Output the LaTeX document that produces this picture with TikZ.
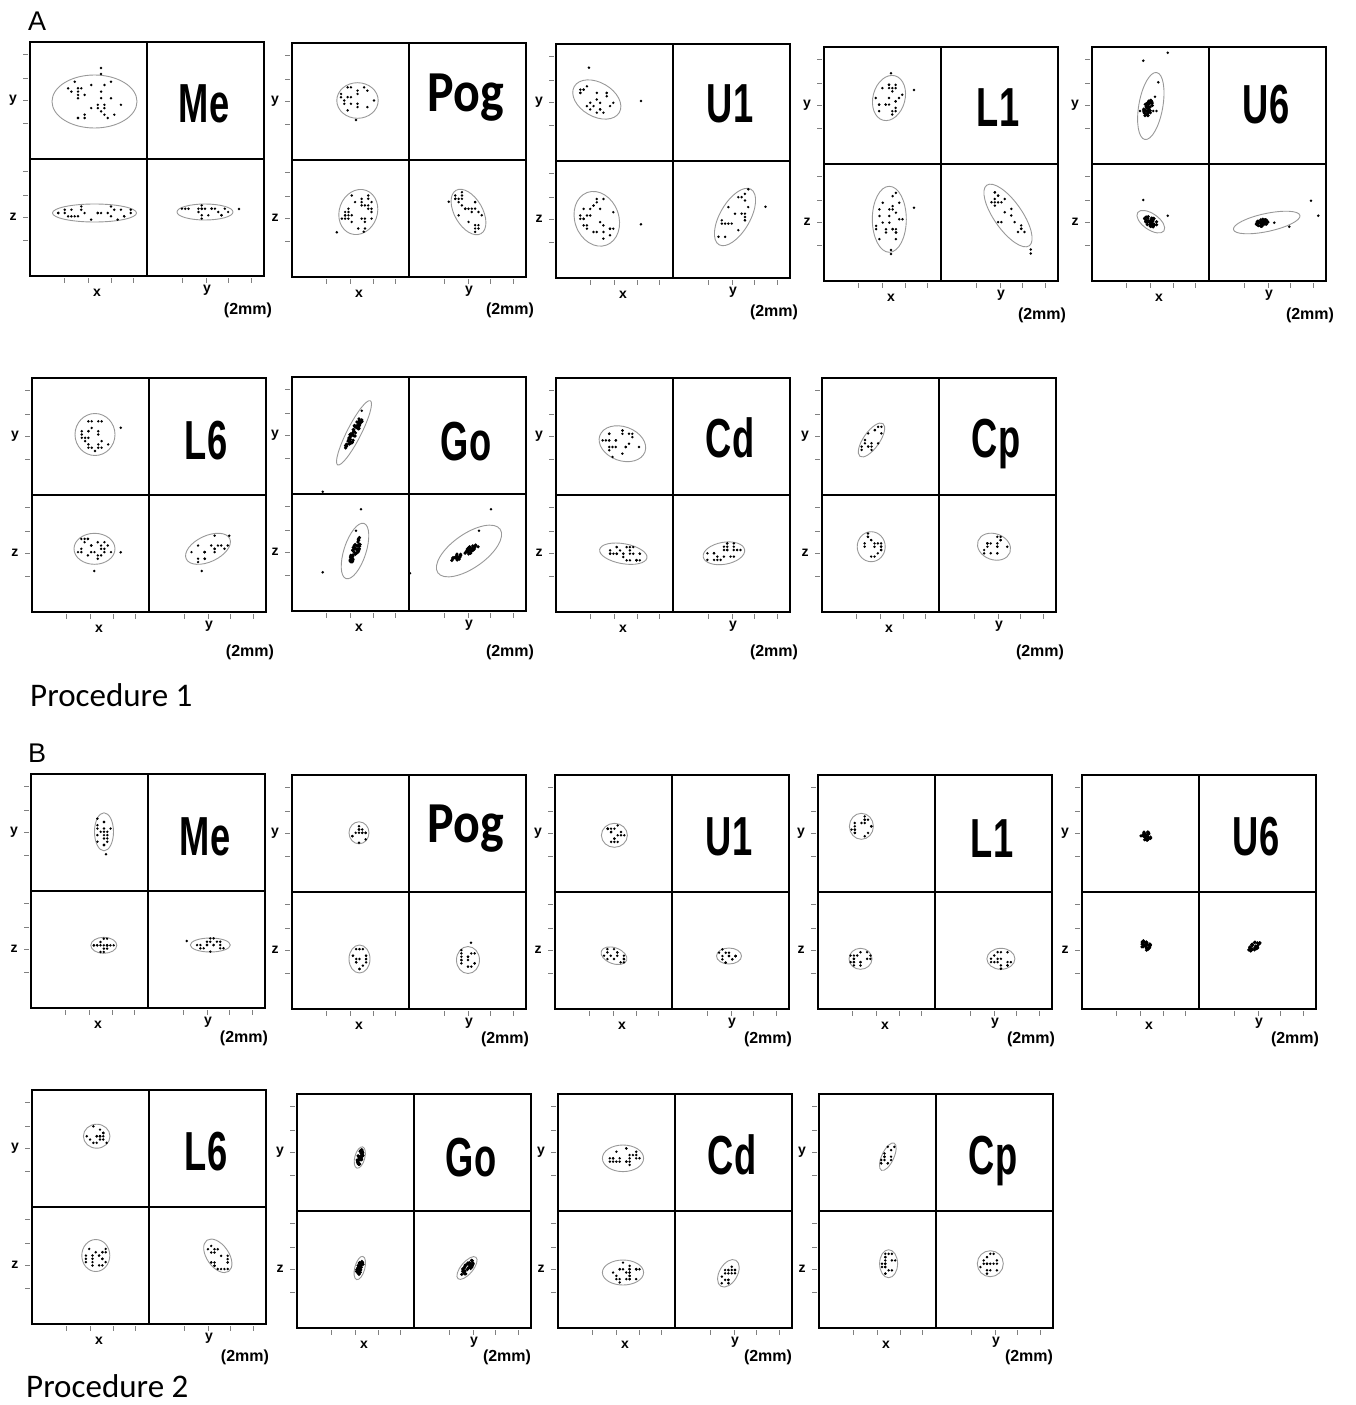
\documentclass[tikz,border=0pt]{standalone}
\usepackage{fontspec}
\setmainfont{Liberation Sans}
\newfontfamily\carl{Carlito}
\tikzset{
 frame/.style={line width=1.9pt, black},
 divl/.style={line width=1.6pt, black},
 tickl/.style={line width=0.8pt, black!50},
 ell/.style={line width=0.9pt, black!40},
 ax/.style={font=\bfseries\fontsize{14}{14}\selectfont, inner sep=0},
 mmlab/.style={font=\bfseries\fontsize{16}{16}\selectfont, inner sep=0},
 biglab/.style={font=\bfseries\fontsize{55}{55}\selectfont, inner sep=0, anchor=base},
 proc/.style={font=\carl\fontsize{33}{33}\selectfont, inner sep=0, anchor=base west},
 letter/.style={font=\fontsize{27}{27}\selectfont, inner sep=0, anchor=base west},
}
\newcommand\cnd[1]{\scalebox{0.66}[1]{#1}}
\newcommand\pogl{{\carl\bfseries\fontsize{58}{58}\selectfont\scalebox{0.86}[1]{Pog}}}
\newcommand\panelbody[5]{%
 \draw[frame] (0,0) rectangle (234,234);
 \draw[divl] (117,0) -- (117,234) (0,117) -- (234,117);
 \foreach \tk in {12,36,58,81,129,153,175,198} {\draw[tickl] (-7,\tk) -- (-2,\tk);}
 \foreach \tk in {34,58,81,103,152,176,198,221} {\draw[tickl] (\tk,236) -- (\tk,241);}
 \node[ax] (#1-ly) at (-17,58) {y};
 \node[ax] (#1-lz) at (-17,175) {z};
 \node[ax] (#1-lx) at (67,251) {x};
 \node[ax] (#1-ly2) at (177,248) {y};
 \node[mmlab] (#1-mm) at (#3,#4) {(2mm)};
 \node[biglab] (#1-t) at (174,#5) {#2};
}
\newcommand\dts[8]{%
 \pgfmathsetseed{#7}%
 \foreach \nn in {1,...,#6}{%
  \pgfmathsetmacro\cAng{rnd*360}%
  \pgfmathsetmacro\cRad{sqrt(rnd)*#8}%
  \pgfmathsetmacro\cU{\cRad*#3*cos(\cAng)}%
  \pgfmathsetmacro\cV{\cRad*#4*sin(\cAng)}%
  \pgfmathsetmacro\cX{#1+round(((\cU)*cos(#5)+(\cV)*sin(#5))/3.3)*3.3}%
  \pgfmathsetmacro\cY{#2+round((0-(\cU)*sin(#5)+(\cV)*cos(#5))/3.3)*3.3}%
  \fill (\cX,\cY) circle[radius=1.35];%
 }%
}
\newcommand\blb[8]{%
 \pgfmathsetseed{#7}%
 \foreach \nn in {1,...,#6}{%
  \pgfmathsetmacro\cAng{rnd*360}%
  \pgfmathsetmacro\cRad{sqrt(rnd)*#8}%
  \pgfmathsetmacro\cU{\cRad*#3*cos(\cAng)}%
  \pgfmathsetmacro\cV{\cRad*#4*sin(\cAng)}%
  \pgfmathsetmacro\cX{#1+(\cU)*cos(#5)+(\cV)*sin(#5)}%
  \pgfmathsetmacro\cY{#2-(\cU)*sin(#5)+(\cV)*cos(#5)}%
  \fill (\cX,\cY) circle[radius=1.8];%
 }%
}
\newcommand\el[5]{\draw[ell, rotate around={#5:(#1,#2)}] (#1,#2) ellipse[x radius=#3, y radius=#4];}
\newcommand\cl[8]{\el{#1}{#2}{#3}{#4}{#5}\dts{#1}{#2}{#3}{#4}{#5}{#6}{#7}{#8}}
\newcommand\od[2]{\fill (#1,#2) circle[radius=1.4];}
\begin{document}
\begin{tikzpicture}[x=1pt,y=-1pt]
\useasboundingbox[fill=white] (0,0) rectangle (1356,1405);
\node[letter] (labA) at (28,31) {A};
\node[letter] (labB) at (28,762) {B};
\node[proc] (proc1) at (30,706) {Procedure 1};
\node[proc] (proc2) at (26,1397) {Procedure 2};
% ---------- A row 1
\begin{scope}[shift={(30,42)}]
 \panelbody{aMe}{\cnd{Me}}{218}{268}{80}
 \cl{64.5}{59.5}{42.5}{26.5}{0}{30}{11}{0.85}
 \od{71}{26}\od{71}{32}
 \cl{64.5}{171}{42}{9}{0}{26}{12}{0.9}
 \cl{175}{170}{28}{8}{0}{20}{13}{0.9}
 \od{209}{167}
\end{scope}
\begin{scope}[shift={(292,43)}]
 \panelbody{aPog}{\pogl}{218}{267}{68}
 \cl{65.5}{57.5}{20.7}{17.8}{0}{18}{21}{0.85}
 \od{64}{77}
 \cl{66.3}{169}{23}{19}{70}{30}{22}{0.85}
 \od{44.8}{189.3}\od{71.7}{188.7}
 \cl{176.5}{169}{25}{14}{-60}{26}{23}{0.85}
 \od{156.7}{158.7}
\end{scope}
\begin{scope}[shift={(556,44)}]
 \panelbody{aU1}{\cnd{U1}}{218}{268}{78}
 \cl{40.8}{55.5}{26}{17}{-30}{22}{31}{0.8}
 \od{32.9}{23.7}\od{84.9}{57}
 \cl{40.8}{174.8}{28}{22}{-70}{28}{32}{0.8}
 \od{84.9}{180.3}
 \cl{179}{173}{32}{15}{60}{20}{33}{0.8}
 \od{209.5}{162.7}\od{192.3}{145.3}
\end{scope}
\begin{scope}[shift={(824,47)}]
 \panelbody{aL1}{\cnd{L1}}{218}{268}{79}
 \cl{65}{51}{23}{16}{75}{24}{41}{0.85}
 \od{90}{43}\od{67}{26.3}
 \cl{65.3}{172.3}{33}{17}{90}{26}{42}{0.85}
 \od{90}{160.7}\od{67}{203}\od{67}{207}
 \cl{184}{168.5}{37}{14}{-55}{22}{43}{0.8}
 \od{206.7}{202.5}\od{206.7}{206.5}
\end{scope}
\begin{scope}[shift={(1092,47)}]
 \panelbody{aU6}{\cnd{U6}}{218}{268}{76}
 \el{58.8}{59}{34}{12}{80}
 \blb{56.3}{61.3}{10}{5}{80}{40}{51}{0.9}
 \foreach \hx in {48,51.3,54.6,57.9,61.2,64.5} {\od{\hx}{64}}
 \od{51.3}{13.7}\od{75.7}{5.7}\od{66.3}{35.3}\od{63}{49.7}
 \el{58.8}{174.7}{16}{8}{-35}
 \blb{58.8}{174.7}{8}{5}{-35}{40}{52}{0.9}
 \od{51.3}{153}\od{75.7}{168.7}
 \el{174.7}{175.5}{34}{9}{12}
 \blb{169.7}{175.7}{7}{4}{12}{40}{53}{0.9}
 \od{219}{153.7}\od{226.3}{168.7}\od{197.3}{179.7}\od{182.3}{175.7}
\end{scope}
% ---------- A row 2
\begin{scope}[shift={(32,378)}]
 \panelbody{aL6}{\cnd{L6}}{218}{274}{81}
 \cl{63}{56.5}{20}{21}{0}{24}{61}{0.8}
 \od{88.7}{49.7}
 \cl{62.5}{170.8}{20.5}{15.5}{0}{24}{62}{0.85}
 \od{88.7}{174.3}\od{62.3}{193}
 \cl{176}{170.8}{24}{13}{25}{18}{63}{0.85}
 \od{169.7}{193}\od{197.3}{157.7}
\end{scope}
\begin{scope}[shift={(292,377)}]
 \panelbody{aGo}{\cnd{Go}}{218}{275}{83}
 \el{62}{55.8}{36}{7}{63}
 \blb{62}{55.8}{20}{4}{63}{50}{71}{0.9}
 \od{69.7}{33.7}\od{30.7}{114.7}
 \el{63}{174}{29}{11}{72}
 \blb{63}{174}{16}{4}{72}{45}{72}{0.9}
 \od{69}{132.3}\od{30.7}{195.3}\od{64}{153.7}
 \el{177}{174}{38}{17}{35}
 \blb{173}{176}{17}{4}{30}{45}{73}{0.9}
 \od{199}{132.3}\od{187}{153.7}\od{118}{196.3}
\end{scope}
\begin{scope}[shift={(556,378)}]
 \panelbody{aCd}{\cnd{Cd}}{218}{274}{79}
 \cl{66.4}{65.7}{24}{17}{-20}{24}{81}{0.85}
 \cl{67.3}{175.7}{24}{10}{-10}{26}{82}{0.85}
 \cl{167.9}{175.3}{21}{11}{10}{24}{83}{0.85}
\end{scope}
\begin{scope}[shift={(822,378)}]
 \panelbody{aCp}{\cnd{Cp}}{218}{274}{79}
 \cl{49.5}{62}{20}{8}{55}{16}{91}{0.85}
 \cl{49.2}{168.7}{14}{15}{0}{20}{92}{0.85}
 \cl{172}{168.7}{17}{13}{-20}{18}{93}{0.85}
\end{scope}
% ---------- B row 1
\begin{scope}[shift={(31,774)}]
 \panelbody{bMe}{\cnd{Me}}{213}{264}{81}
 \cl{73}{57.8}{9.5}{19}{0}{20}{111}{0.85}
 \od{75}{80.3}
 \cl{72.8}{171.3}{13}{8}{0}{18}{112}{0.85}
 \cl{179.3}{171}{20}{7}{0}{18}{113}{0.85}
 \od{155.7}{167}
\end{scope}
\begin{scope}[shift={(292,775)}]
 \panelbody{bPog}{\pogl}{213}{264}{67}
 \cl{67}{57.8}{10}{11}{0}{14}{121}{0.85}
 \cl{67.5}{184}{10.5}{14}{0}{18}{122}{0.85}
 \cl{176}{185}{11.5}{13.5}{0}{16}{123}{0.85}
 \od{179}{167.7}
\end{scope}
\begin{scope}[shift={(555,775)}]
 \panelbody{bU1}{\cnd{U1}}{213}{264}{80}
 \cl{59.4}{60.3}{13}{12}{0}{18}{131}{0.85}
 \cl{59}{180.7}{13.5}{8}{-20}{16}{132}{0.85}
 \cl{174}{181}{12.5}{8}{0}{16}{133}{0.85}
\end{scope}
\begin{scope}[shift={(818,775)}]
 \panelbody{bL1}{\cnd{L1}}{213}{264}{82}
 \cl{43.4}{51.3}{12}{13}{0}{18}{141}{0.85}
 \cl{42.5}{183.8}{11.5}{10.5}{0}{18}{142}{0.85}
 \cl{182.9}{183.8}{14}{10.5}{0}{18}{143}{0.85}
\end{scope}
\begin{scope}[shift={(1082,775)}]
 \panelbody{bU6}{\cnd{U6}}{213}{264}{80}
 \blb{63.9}{61}{6}{5}{-30}{30}{151}{0.9}
 \blb{63.9}{170}{5}{6}{0}{30}{152}{0.9}
 \blb{172.4}{171.7}{8}{4}{45}{30}{153}{0.9}
\end{scope}
% ---------- B row 2
\begin{scope}[shift={(32,1090)}]
 \panelbody{bL6}{\cnd{L6}}{213}{267}{80}
 \cl{64.7}{46.2}{13.3}{12}{0}{18}{161}{0.85}
 \cl{63.8}{165.5}{14}{16}{0}{20}{162}{0.85}
 \cl{185.8}{165.8}{19}{11}{-55}{20}{163}{0.85}
\end{scope}
\begin{scope}[shift={(297,1094)}]
 \panelbody{bGo}{\cnd{Go}}{210}{263}{82}
 \el{62.8}{63.5}{11}{5}{75}
 \blb{62.8}{63.5}{9}{3}{75}{30}{171}{0.9}
 \el{62.8}{174}{12}{5}{75}
 \blb{62.8}{174}{10}{3}{75}{30}{172}{0.9}
 \el{170}{174}{14}{6}{50}
 \blb{170}{174}{11}{4}{50}{30}{173}{0.9}
\end{scope}
\begin{scope}[shift={(558,1094)}]
 \panelbody{bCd}{\cnd{Cd}}{210}{263}{80}
 \cl{65}{64.3}{20.6}{13.3}{0}{22}{181}{0.85}
 \cl{65}{178.5}{20.6}{12.5}{0}{26}{182}{0.85}
 \cl{170.4}{179.3}{15}{9}{60}{18}{183}{0.85}
\end{scope}
\begin{scope}[shift={(819,1094)}]
 \panelbody{bCp}{\cnd{Cp}}{210}{263}{80}
 \cl{68.8}{62.7}{15}{6}{65}{14}{191}{0.85}
 \cl{69.6}{169.7}{9}{14}{0}{18}{192}{0.85}
 \cl{171.3}{169.7}{13}{13}{0}{18}{193}{0.85}
\end{scope}
\end{tikzpicture}
\end{document}
